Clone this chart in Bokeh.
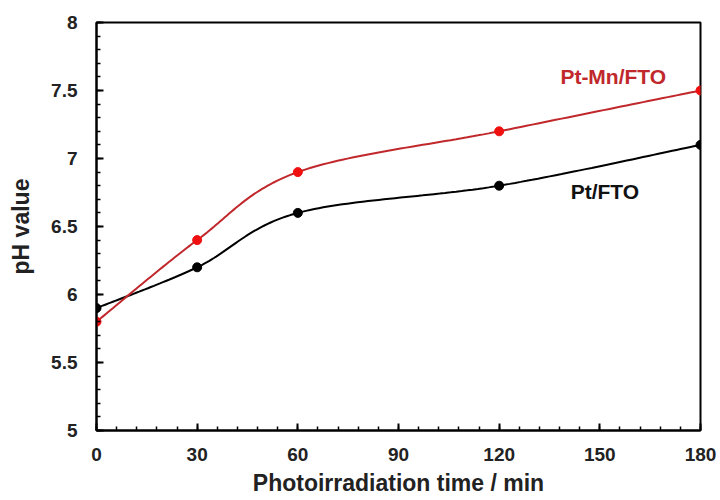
import numpy as np
from bokeh.plotting import figure
from bokeh.models import Label, FixedTicker, Range1d
from bokeh.embed import file_html
from bokeh.resources import INLINE

# ---- data ----
time_min = [0, 30, 60, 120, 180]
ph_pt = [5.9, 6.2, 6.6, 6.8, 7.1]
ph_ptmn = [5.8, 6.4, 6.9, 7.2, 7.5]
series_names = ["Pt/FTO", "Pt-Mn/FTO"]
x_ticks = [0, 30, 60, 90, 120, 150, 180]
y_ticks = [5, 5.5, 6, 6.5, 7, 7.5, 8]
y_tick_labels = {5: "5", 5.5: "5.5", 6: "6", 6.5: "6.5", 7: "7", 7.5: "7.5", 8: "8"}
label_pos_pt = (151.5, 6.76)
label_pos_ptmn = (154, 7.60)

XR = (0, 180)
YR = (5, 8)
W, H = 720, 500
BL, BR, BT, BB = 96, 20, 22, 70
PW, PH = W - BL - BR, H - BT - BB


def smooth(xs, ys, n=40):
    # Excel-like smoothed line: cubic Bezier with control points at 1/6 of neighbour chord,
    # computed in screen-proportional space
    sx = PW / (XR[1] - XR[0])
    sy = PH / (YR[1] - YR[0])
    P = np.column_stack([np.array(xs, float) * sx, np.array(ys, float) * sy])
    m = len(P)
    out = []
    for i in range(m - 1):
        p0 = P[i - 1] if i > 0 else P[i]
        p1 = P[i]
        p2 = P[i + 1]
        p3 = P[i + 2] if i + 2 < m else P[i + 1]
        c1 = p1 + (p2 - p0) / 6.0
        c2 = p2 - (p3 - p1) / 6.0
        t = np.linspace(0, 1, n)[:, None]
        seg = ((1 - t) ** 3) * p1 + 3 * ((1 - t) ** 2) * t * c1 + 3 * (1 - t) * t ** 2 * c2 + t ** 3 * p2
        if i > 0:
            seg = seg[1:]
        out.append(seg)
    pts = np.vstack(out)
    return pts[:, 0] / sx, pts[:, 1] / sy


p = figure(width=W, height=H, output_backend="svg", toolbar_location=None,
           x_range=Range1d(*XR), y_range=Range1d(*YR),
           min_border_left=BL, min_border_right=BR, min_border_top=BT, min_border_bottom=BB)
p.grid.visible = False
p.outline_line_color = "black"
p.outline_line_width = 2
p.background_fill_color = "white"
p.border_fill_color = "white"

FONT = "Liberation Sans"
for ax in (p.xaxis[0], p.yaxis[0]):
    ax.axis_line_width = 2
    ax.axis_line_color = "black"
    ax.major_tick_in = 7
    ax.major_tick_out = 0
    ax.minor_tick_in = 4
    ax.minor_tick_out = 0
    ax.major_tick_line_width = 2
    ax.minor_tick_line_width = 1.5
    ax.major_label_text_font = FONT
    ax.major_label_text_font_style = "bold"
    ax.major_label_text_font_size = "19px"
    ax.major_label_text_color = "#222222"
    ax.axis_label_text_font = FONT
    ax.axis_label_text_font_style = "bold"
    ax.axis_label_text_font_size = "23px"
    ax.axis_label_text_color = "#222222"

p.xaxis.ticker = FixedTicker(ticks=x_ticks, minor_ticks=list(range(0, 181, 6)))
p.yaxis.ticker = FixedTicker(ticks=y_ticks, minor_ticks=[round(5 + 0.1 * i, 1) for i in range(31)])
p.yaxis.major_label_overrides = y_tick_labels
p.xaxis.axis_label = "Photoirradiation time / min"
p.yaxis.axis_label = "pH value"
p.xaxis.major_label_standoff = 17
p.yaxis.major_label_standoff = 19
p.xaxis.axis_label_standoff = 6
p.yaxis.axis_label_standoff = 14

RED_LINE = "#c0282c"
RED_MARK = "#f01010"

sx, sy = smooth(time_min, ph_pt)
p.line(sx, sy, line_color="black", line_width=2)
p.scatter(time_min, ph_pt, size=9, fill_color="black", line_color="black")

rx, ry = smooth(time_min, ph_ptmn)
p.line(rx, ry, line_color=RED_LINE, line_width=2)
p.scatter(time_min, ph_ptmn, size=9, fill_color=RED_MARK, line_color=RED_MARK)

p.add_layout(Label(x=label_pos_ptmn[0], y=label_pos_ptmn[1], text=series_names[1],
                   text_font=FONT, text_font_style="bold", text_font_size="21px",
                   text_color=RED_LINE, text_align="center", text_baseline="middle"))
p.add_layout(Label(x=label_pos_pt[0], y=label_pos_pt[1], text=series_names[0],
                   text_font=FONT, text_font_style="bold", text_font_size="21px",
                   text_color="#111111", text_align="center", text_baseline="middle"))

open("out.html", "w").write(file_html(p, INLINE))
